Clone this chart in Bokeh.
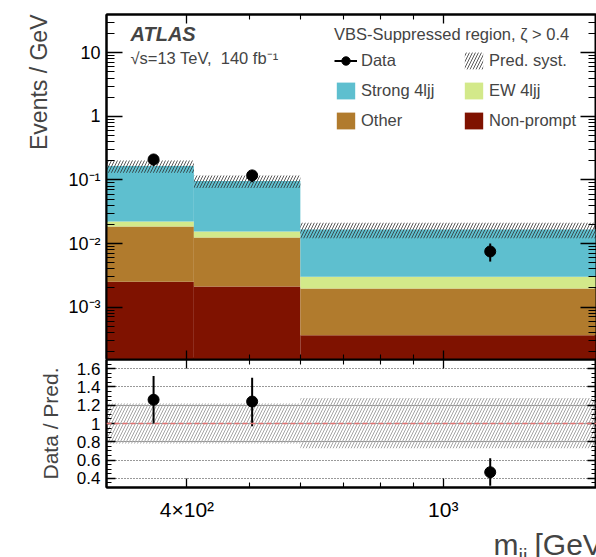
from bokeh.plotting import figure
from bokeh.layouts import column
from bokeh.models import (ColumnDataSource, FixedTicker, LogAxis, LinearAxis, Label, Title,
                          Legend, LegendItem, Span, CustomJSTickFormatter, Range1d)
from bokeh.embed import file_html
from bokeh.resources import INLINE

# ---------------- data ----------------
bin_edges = [300, 410, 600, 1766]          # m_jj [GeV]
nonprompt = [0.0025, 0.0021, 0.00036]      # Events / GeV
other = [0.0160, 0.0103, 0.0016]
ew_4ljj = [0.0037, 0.0031, 0.00104]
strong_4ljj = [0.144, 0.0805, 0.0136]
data = [0.21, 0.118, 0.0075]
data_lo = [0.166, 0.092, 0.0052]
data_hi = [0.254, 0.143, 0.0100]
syst_lo = [0.78, 0.78, 0.73]               # relative band
syst_hi = [1.22, 1.22, 1.28]
ratio = [1.26, 1.24, 0.467]
ratio_lo = [1.00, 0.97, 0.32]
ratio_hi = [1.52, 1.50, 0.62]

main_y_ticks = [1e-3, 1e-2, 1e-1, 1, 10]
main_y_labels = ["10⁻³", "10⁻²", "10⁻¹", "1", "10"]
ratio_y_ticks = [0.4, 0.6, 0.8, 1.0, 1.2, 1.4, 1.6]
ratio_y_labels = ["0.4", "0.6", "0.8", "1", "1.2", "1.4", "1.6"]
x_ticks = [400, 1000]
x_labels = ["4×10²", "10³"]

colors = {"Strong 4ljj": "#5ebfcf", "EW 4ljj": "#d3e98a", "Other": "#b17b2d", "Non-prompt": "#7f1200"}
FONT = "Liberation Sans"

# ---------------- derived ----------------
left = bin_edges[:-1]
right = bin_edges[1:]
centers = [(a + b) / 2 for a, b in zip(left, right)]
stack_names = ["Non-prompt", "Other", "EW 4ljj", "Strong 4ljj"]
stack_vals = [nonprompt, other, ew_4ljj, strong_4ljj]
pred = [sum(v[i] for v in stack_vals) for i in range(len(left))]

YMIN, YMAX = 1.5e-4, 40
XMIN, XMAX = 300, 1730


def log_formatter(ticks, labels):
    return CustomJSTickFormatter(args=dict(t=ticks, l=labels), code="""
        for (let i = 0; i < t.length; i++) {
            if (Math.abs(Math.log10(t[i]) - Math.log10(tick)) < 1e-6) return l[i];
        }
        return '';""")


def lin_formatter(ticks, labels):
    return CustomJSTickFormatter(args=dict(t=ticks, l=labels), code="""
        for (let i = 0; i < t.length; i++) {
            if (Math.abs(t[i] - tick) < 1e-6) return l[i];
        }
        return '';""")


blank = CustomJSTickFormatter(code="return '';")

main_minor = [m * 10 ** e for e in range(-4, 2) for m in range(2, 10)]
x_minor = [300, 500, 600, 700, 800, 900]
ratio_minor = [round(0.3 + 0.05 * i, 2) for i in range(29)]


def style_axis(ax, tin, tin_minor, labels=True, size="18px", standoff=6):
    ax.major_tick_in = tin
    ax.major_tick_out = 0
    ax.minor_tick_in = tin_minor
    ax.minor_tick_out = 0
    ax.axis_line_width = 2
    ax.major_tick_line_width = 1.3
    ax.minor_tick_line_width = 1.1
    ax.major_label_text_font = FONT
    ax.major_label_text_color = "black"
    if labels:
        ax.major_label_text_font_size = size
        ax.major_label_standoff = standoff
    else:
        ax.major_label_text_font_size = "0px"
        ax.major_label_standoff = 0


# ---------------- main panel ----------------
p = figure(width=596, height=359, x_axis_type="log", y_axis_type="log",
           x_range=Range1d(XMIN, XMAX), y_range=Range1d(YMIN, YMAX),
           output_backend="svg", toolbar_location=None,
           min_border_left=106, min_border_right=0, min_border_top=14, min_border_bottom=0)
p.grid.visible = False
p.outline_line_color = "black"
p.outline_line_width = 2

bottom = [YMIN * 1e-3] * len(left)
stack_renderers = {}
for name, vals in zip(stack_names, stack_vals):
    top = [b + v for b, v in zip(bottom, vals)]
    src = ColumnDataSource(dict(left=left, right=right, bottom=bottom, top=top))
    stack_renderers[name] = p.quad(left="left", right="right", bottom="bottom", top="top", source=src,
                                   fill_color=colors[name], line_color=colors[name], line_width=0)
    bottom = top

band_src = ColumnDataSource(dict(left=left, right=right,
                                 bottom=[pv * lo for pv, lo in zip(pred, syst_lo)],
                                 top=[pv * hi for pv, hi in zip(pred, syst_hi)]))
band_r = p.quad(left="left", right="right", bottom="bottom", top="top", source=band_src,
                fill_alpha=0, line_alpha=0, hatch_pattern="/", hatch_color="#303030",
                hatch_alpha=0.8, hatch_scale=6, hatch_weight=1.0)

dsrc = ColumnDataSource(dict(x=centers, y=data, lo=data_lo, hi=data_hi))
err_r = p.segment(x0="x", x1="x", y0="lo", y1="hi", source=dsrc, line_color="black", line_width=2)
pt_r = p.scatter(x="x", y="y", source=dsrc, size=11, color="black")

# axes of the main panel
yl = p.yaxis[0]
yl.ticker = FixedTicker(ticks=main_y_ticks, minor_ticks=main_minor)
yl.formatter = log_formatter(main_y_ticks, main_y_labels)
style_axis(yl, 16, 8, True, "18px", 6)

yr = LogAxis(ticker=FixedTicker(ticks=main_y_ticks, minor_ticks=main_minor), formatter=blank)
style_axis(yr, 16, 8, False)
p.add_layout(yr, "right")

xb = p.xaxis[0]
xb.ticker = FixedTicker(ticks=x_ticks, minor_ticks=x_minor)
xb.formatter = blank
style_axis(xb, 9, 5, False)

xt = LogAxis(ticker=FixedTicker(ticks=x_ticks, minor_ticks=x_minor), formatter=blank)
style_axis(xt, 9, 5, False)
p.add_layout(xt, "above")

p.add_layout(Title(text="Events / GeV", align="right", text_font=FONT, text_font_size="23px",
                   text_font_style="normal", standoff=28), "left")

# texts
p.add_layout(Label(x=24, y=326, x_units="screen", y_units="screen", text="ATLAS",
                   text_font=FONT, text_font_size="20px", text_font_style="bold italic",
                   text_baseline="middle"))
p.add_layout(Label(x=24, y=302, x_units="screen", y_units="screen",
                   text="√s=13 TeV,\u00a0 140 fb⁻¹",
                   text_font=FONT, text_font_size="16.5px", text_baseline="middle"))

legend = Legend(items=[
    LegendItem(label="Data", renderers=[err_r, pt_r]),
    LegendItem(label="Pred. syst.", renderers=[band_r]),
    LegendItem(label="Strong 4ljj", renderers=[stack_renderers["Strong 4ljj"]]),
    LegendItem(label="EW 4ljj", renderers=[stack_renderers["EW 4ljj"]]),
    LegendItem(label="Other", renderers=[stack_renderers["Other"]]),
    LegendItem(label="Non-prompt", renderers=[stack_renderers["Non-prompt"]]),
], location=(228, 228), ncols=2, orientation="horizontal",
    title="VBS-Suppressed region, ζ > 0.4", title_text_font=FONT, title_text_font_size="16.5px",
    title_text_font_style="normal", title_standoff=6,
    label_text_font=FONT, label_text_font_size="16.5px", label_width=92,
    glyph_width=23, glyph_height=21, label_standoff=4, spacing=9, padding=0, margin=0,
    border_line_alpha=0, background_fill_alpha=0)
p.add_layout(legend)

# ---------------- ratio panel ----------------
r = figure(width=596, height=166, x_axis_type="log", x_range=p.x_range, y_range=Range1d(0.3, 1.7),
           output_backend="svg", toolbar_location=None,
           min_border_left=106, min_border_right=0, min_border_top=0, min_border_bottom=38)
r.xgrid.visible = False
r.ygrid.ticker = FixedTicker(ticks=ratio_y_ticks)
r.ygrid.grid_line_color = "black"
r.ygrid.grid_line_dash = "1 2"
r.ygrid.grid_line_width = 1
r.ygrid.grid_line_alpha = 0.8
r.outline_line_color = "black"
r.outline_line_width = 2

rband = ColumnDataSource(dict(left=left, right=right, bottom=syst_lo, top=syst_hi))
r.quad(left="left", right="right", bottom="bottom", top="top", source=rband,
       fill_alpha=0, line_alpha=0, hatch_pattern="/", hatch_color="#9a9a9a",
       hatch_scale=6, hatch_weight=0.9)
r.add_layout(Span(location=1.0, dimension="width", line_color="#e57373", line_dash="5 3", line_width=1.5))

rsrc = ColumnDataSource(dict(x=centers, y=ratio, lo=ratio_lo, hi=ratio_hi))
r.segment(x0="x", x1="x", y0="lo", y1="hi", source=rsrc, line_color="black", line_width=2)
r.scatter(x="x", y="y", source=rsrc, size=11, color="black")

ryl = r.yaxis[0]
ryl.ticker = FixedTicker(ticks=ratio_y_ticks, minor_ticks=ratio_minor)
ryl.formatter = lin_formatter(ratio_y_ticks, ratio_y_labels)
style_axis(ryl, 9, 5, True, "17px", 6)
ryl.axis_label = "Data / Pred."
ryl.axis_label_text_font = FONT
ryl.axis_label_text_font_size = "21px"
ryl.axis_label_text_font_style = "normal"
ryl.axis_label_standoff = 12

ryr = LinearAxis(ticker=FixedTicker(ticks=ratio_y_ticks, minor_ticks=ratio_minor), formatter=blank)
style_axis(ryr, 9, 5, False)
r.add_layout(ryr, "right")

rxb = r.xaxis[0]
rxb.ticker = FixedTicker(ticks=x_ticks, minor_ticks=x_minor)
rxb.formatter = log_formatter(x_ticks, x_labels)
style_axis(rxb, 9, 5, True, "21px", 10)

rxt = LogAxis(ticker=FixedTicker(ticks=x_ticks, minor_ticks=x_minor), formatter=blank)
style_axis(rxt, 9, 5, False)
r.add_layout(rxt, "above")

# ---------------- x-axis title strip ----------------
t = figure(width=596, height=32, x_range=Range1d(0, 1), y_range=Range1d(0, 1), title=None,
           output_backend="svg", toolbar_location=None, x_axis_location=None, y_axis_location=None,
           min_border_left=106, min_border_right=0, min_border_top=0, min_border_bottom=0)
t.grid.visible = False
t.outline_line_color = None
t.add_layout(Label(x=387, y=13, x_units="screen", y_units="screen", text="m",
                   text_font=FONT, text_font_size="30px", text_baseline="alphabetic"))
t.add_layout(Label(x=412, y=2, x_units="screen", y_units="screen", text="jj",
                   text_font=FONT, text_font_size="20px", text_baseline="alphabetic"))
t.add_layout(Label(x=428, y=13, x_units="screen", y_units="screen", text="[GeV]",
                   text_font=FONT, text_font_size="30px", text_baseline="alphabetic"))

layout = column(p, r, t, spacing=0)
open("out.html", "w").write(file_html(layout, INLINE))
